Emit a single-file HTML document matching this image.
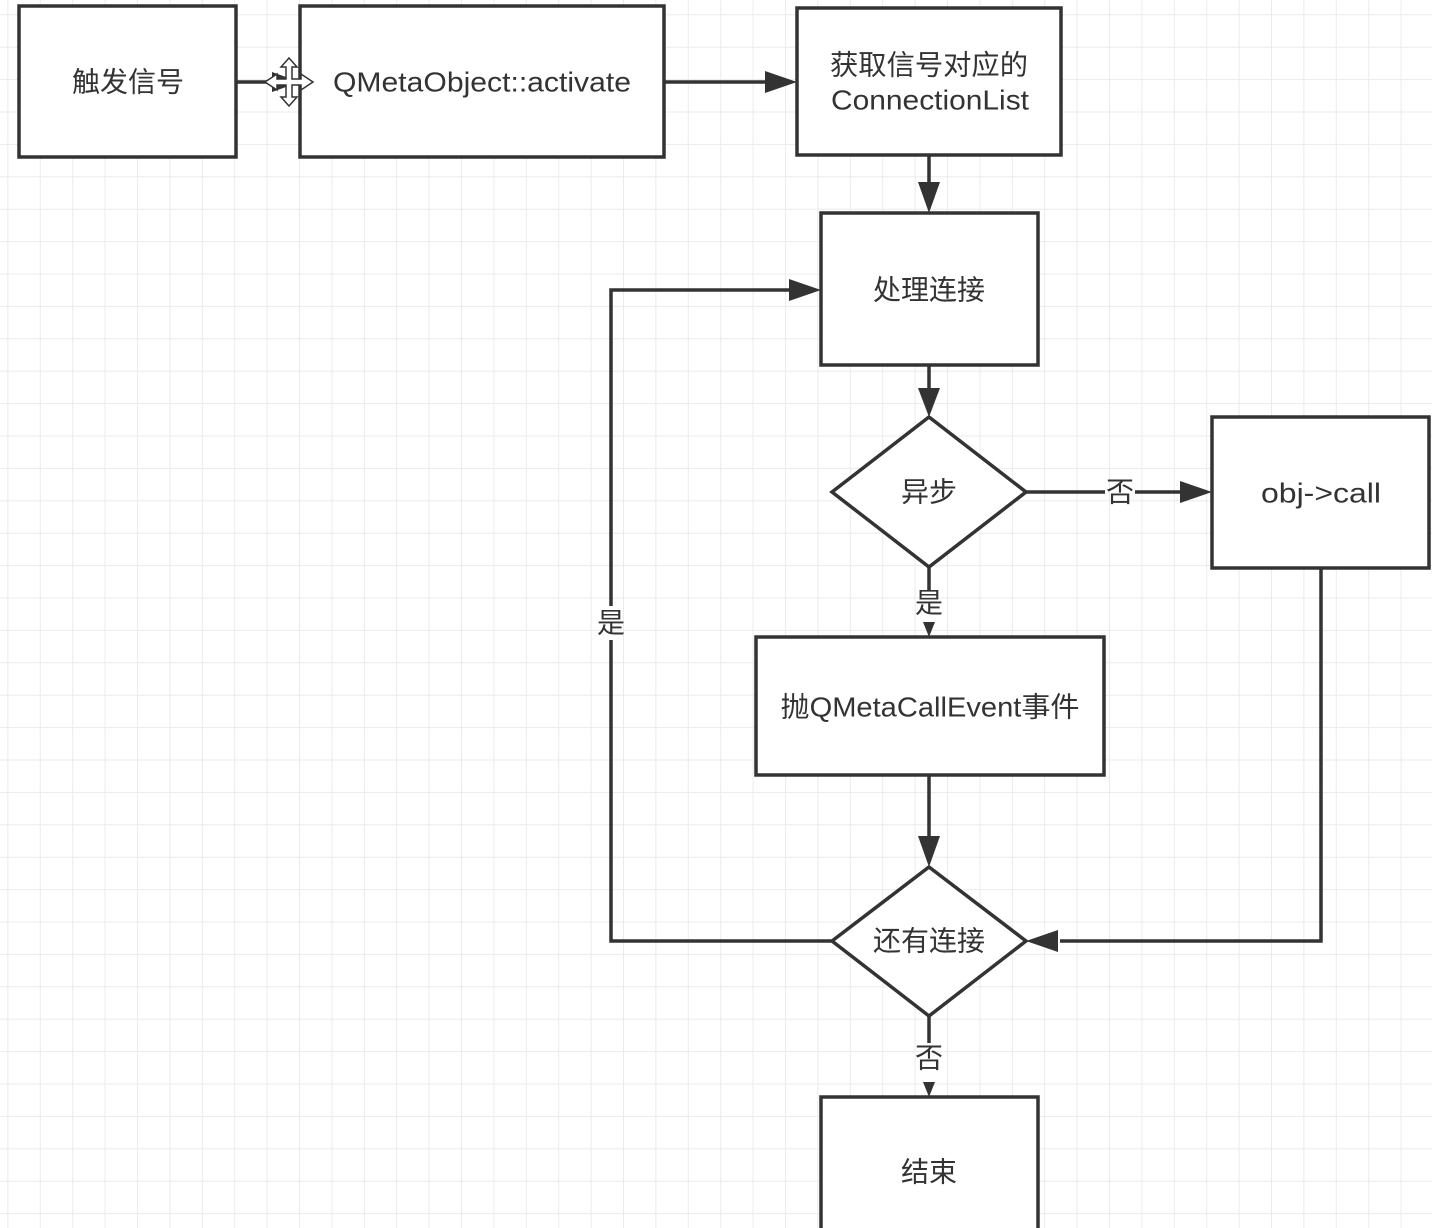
<!DOCTYPE html>
<html><head><meta charset="utf-8"><style>
html,body{margin:0;padding:0;background:#fff;}
svg{display:block;}
text{font-family:"Liberation Sans","Noto Sans CJK SC",sans-serif;font-size:28px;fill:#333;text-anchor:middle;dominant-baseline:central;}
</style></head><body>
<svg width="1432" height="1228" viewBox="0 0 1432 1228" xmlns="http://www.w3.org/2000/svg">
<defs>
<pattern id="g" x="7.4" y="14.3" width="32.4" height="32.4" patternUnits="userSpaceOnUse">
<path d="M0 0H32.4M0 0V32.4" stroke="#ebebeb" stroke-width="2" fill="none"/>
</pattern>
</defs>
<rect width="1432" height="1228" fill="url(#g)"/>
<g stroke="#333" stroke-width="3.5" fill="#fff">
<rect x="19" y="6" width="217" height="151"/>
<rect x="300" y="6" width="364" height="151"/>
<rect x="797" y="8" width="264" height="147"/>
<rect x="821" y="213" width="217" height="152"/>
<polygon points="929,417 1026,492 929,567 832,492"/>
<rect x="1212" y="417" width="217" height="151"/>
<rect x="756" y="637" width="348" height="138"/>
<polygon points="929,867 1026,941 929,1016 832,941"/>
<rect x="821" y="1097" width="217" height="140"/>
</g>
<g stroke="#333" stroke-width="3.5" fill="none">
<line x1="236" y1="82" x2="272" y2="82"/>
<line x1="664" y1="82" x2="765" y2="82"/>
<line x1="929" y1="155" x2="929" y2="182"/>
<line x1="929" y1="365" x2="929" y2="390"/>
<line x1="1026" y1="492" x2="1105" y2="492"/>
<line x1="1135" y1="492" x2="1180" y2="492"/>
<line x1="929" y1="567" x2="929" y2="590"/>
<line x1="929" y1="775" x2="929" y2="836"/>
<polyline points="832,941 611,941 611,640"/>
<polyline points="611,606 611,290 790,290"/>
<polyline points="1321,568 1321,941 1060,941"/>
<line x1="929" y1="1016" x2="929" y2="1043"/>
</g>
<g fill="#333">
<polygon points="797,82 765,71 765,93"/>
<polygon points="929,213 918,182 940,182"/>
<polygon points="929,417 918,388 940,388"/>
<polygon points="1212,492 1180,481 1180,503"/>
<polygon points="929,637 923,622 935,622"/>
<polygon points="929,867 918,836 940,836"/>
<polygon points="821,290 789,279 789,301"/>
<polygon points="1026,941 1058,930 1058,952"/>
<polygon points="929,1097 923,1082 935,1082"/>
<polygon points="300,82 272,72 272,92"/>
</g>
<g stroke="#333" stroke-width="1.5" fill="#fff">
<polygon points="289,58 297,67 292,67 292,79 301,79 301,74 313,82 301,90 301,85 292,85 292,97 297,97 289,106 281,97 286,97 286,85 277,85 277,90 265,82 277,74 277,79 286,79 286,67 281,67"/>
</g>
<text x="128" y="82" textLength="112" lengthAdjust="spacingAndGlyphs">触发信号</text>
<text x="482" y="82" textLength="298" lengthAdjust="spacingAndGlyphs">QMetaObject::activate</text>
<text x="929" y="65" textLength="198" lengthAdjust="spacingAndGlyphs">获取信号对应的</text>
<text x="930" y="100" textLength="198" lengthAdjust="spacingAndGlyphs">ConnectionList</text>
<text x="929" y="290">处理连接</text>
<text x="929" y="492">异步</text>
<text x="1120" y="492">否</text>
<text x="1321" y="493" textLength="120" lengthAdjust="spacingAndGlyphs">obj-&gt;call</text>
<text x="929" y="603">是</text>
<text x="611" y="623">是</text>
<text x="930" y="707" textLength="299" lengthAdjust="spacingAndGlyphs">抛QMetaCallEvent事件</text>
<text x="929" y="941">还有连接</text>
<text x="929" y="1058">否</text>
<text x="929" y="1172">结束</text>
</svg>
</body></html>
